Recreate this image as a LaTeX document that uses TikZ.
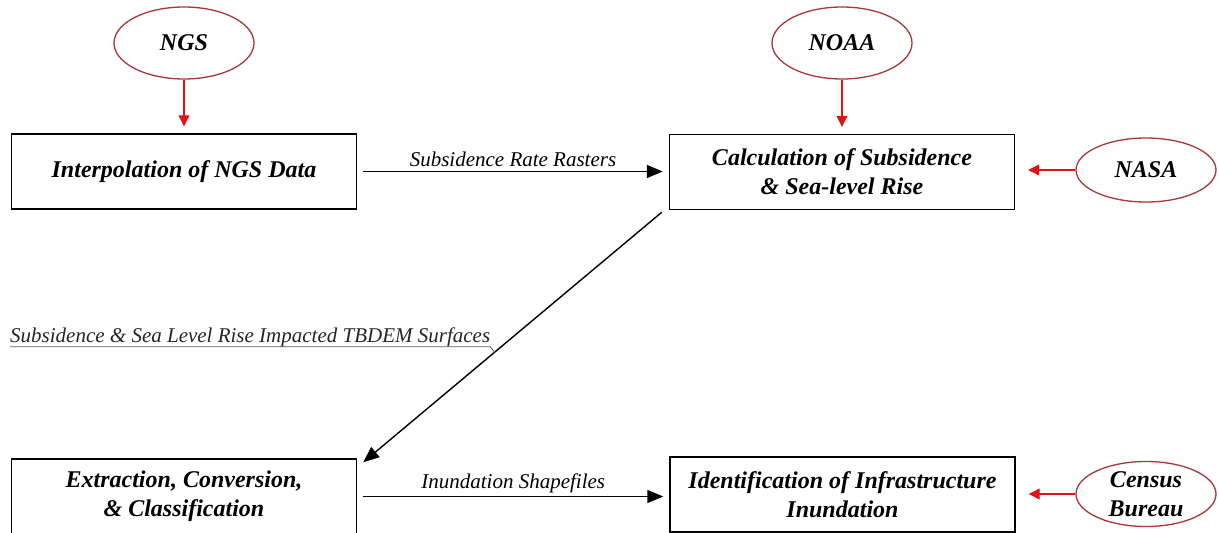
\documentclass[tikz,border=0pt]{standalone}
\usepackage{fontspec}
\setmainfont{Liberation Serif}
\newfontfamily\timesfont{Liberation Serif}
\usepackage{tikz}
\usetikzlibrary{shapes.geometric, calc, positioning}
\usetikzlibrary{arrows.meta}
\tikzset{>={Triangle[length=16pt, width=13pt]}}
\definecolor{myred}{HTML}{E01414}
\definecolor{mymaroon}{HTML}{A83838}
\definecolor{mygray}{HTML}{606060}
\tikzset{
	procbox/.style={draw, line width=1.4pt, minimum width=345pt, minimum height=75pt, align=center, inner sep=0pt, font=\timesfont\fontsize{24}{29}\selectfont\bfseries\itshape},
	agency/.style={ellipse, draw=mymaroon, line width=1.3pt, minimum width=140pt, minimum height=72pt, align=center, inner sep=0pt, font=\timesfont\fontsize{24}{29}\selectfont\bfseries\itshape},
	feed/.style={->, >={Triangle[length=11pt, width=11pt]}, myred, line width=1.2pt},
	flow/.style={->, line width=1.4pt},
	flowlabel/.style={font=\timesfont\fontsize{21}{25}\selectfont\itshape}
}

\begin{document}
\begin{tikzpicture}[x=1pt, y=-1pt]
				\useasboundingbox (0,0) rectangle (1219,533);
				\node[procbox] (interp) at (184,171.5) {Interpolation of NGS Data};
				\node[procbox] (subsid) at (842,172) {Calculation of Subsidence\\ \& Sea-level Rise};
				\node[procbox] (extract) at (184,496.5) {Extraction, Conversion,\\ \& Classification};
				\node[procbox] (infra) at (842.5,494.5) {Identification of Infrastructure\\ Inundation};
				\node[agency] (ngs) at (184,43) {NGS};
				\node[agency] (noaa) at (842,43) {NOAA};
				\node[agency, minimum height=64pt] (nasa) at (1146,170) {NASA};
				\node[agency, minimum height=65pt, inner ysep=-4pt] (census) at (1146,494) {Census\\ Bureau};
				\draw[feed, shorten >=7pt] (ngs) -- (interp);
				\draw[feed, shorten >=7pt] (noaa) -- (subsid);
				\draw[feed, shorten >=13pt] (nasa.west) -- (nasa.west -| subsid.east);
				\draw[feed, shorten >=13pt] (census.west) -- (census.west -| infra.east);
				\draw[flow, shorten <=6pt, shorten >=6pt] (interp.east) -- node[above, flowlabel, yshift=1pt]{Subsidence Rate Rasters} (interp.east -| subsid.west);
				\draw[flow, shorten <=6pt, shorten >=6pt] (extract.east) -- node[above, flowlabel]{Inundation Shapefiles} (extract.east -| infra.west);
				\draw[flow] ($(subsid.south west)+(-7,2)$) -- coordinate[pos=0.56] (lead) ($(extract.north east)+(6,4)$);
				\node[flowlabel, text=black!85, anchor=base west, inner sep=0pt] (tbdem) at (10,342) {Subsidence \& Sea Level Rise Impacted TBDEM Surfaces};
				\draw[mygray, line width=0.8pt] (tbdem.south west) -- (tbdem.south east) -- (lead);
\end{tikzpicture}
\end{document}
